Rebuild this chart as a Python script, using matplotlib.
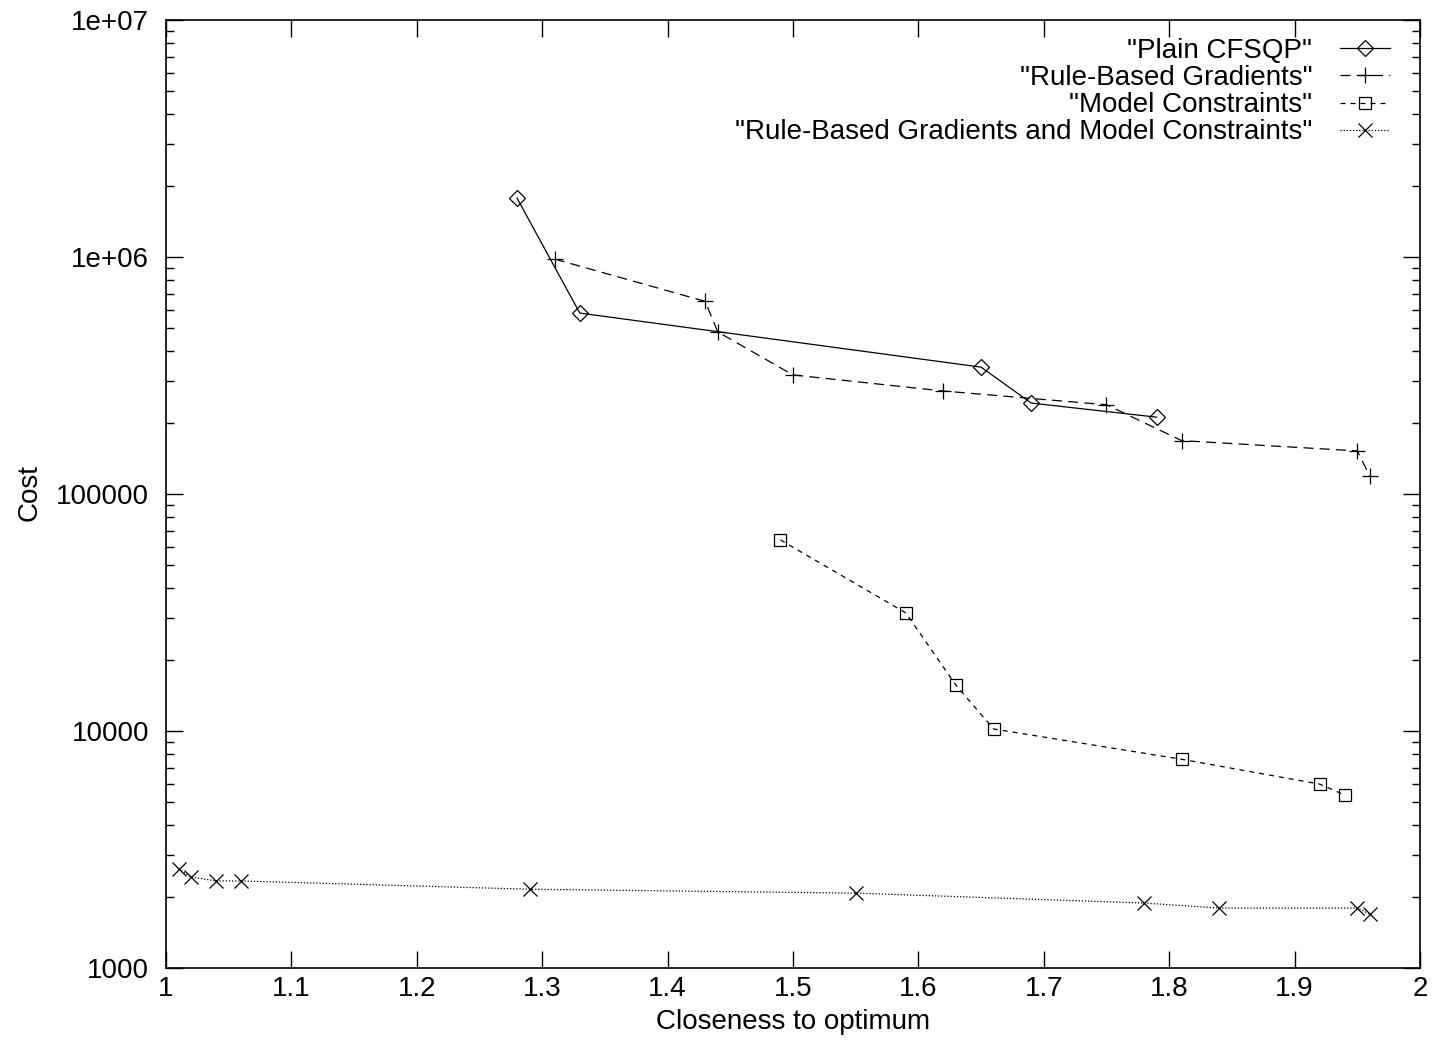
import matplotlib.pyplot as plt
import numpy as np

plt.rcParams['font.family'] = ['Liberation Sans', 'DejaVu Sans']

# данные
plain_x = [1.28, 1.33, 1.65, 1.69, 1.79]
plain_y = [1.77e6, 5.8e5, 3.43e5, 2.42e5, 2.11e5]

rule_x = [1.31, 1.43, 1.44, 1.50, 1.62, 1.75, 1.81, 1.95, 1.96]
rule_y = [9.8e5, 6.5e5, 4.83e5, 3.18e5, 2.72e5, 2.38e5, 1.68e5, 1.52e5, 1.19e5]

model_x = [1.49, 1.59, 1.63, 1.66, 1.81, 1.92, 1.94]
model_y = [6.4e4, 3.15e4, 1.56e4, 1.02e4, 7.6e3, 5.97e3, 5.37e3]

both_x = [1.01, 1.02, 1.04, 1.06, 1.29, 1.55, 1.78, 1.84, 1.95, 1.96]
both_y = [2.62e3, 2.42e3, 2.33e3, 2.33e3, 2.15e3, 2.07e3, 1.88e3, 1.79e3, 1.79e3, 1.69e3]

labels = ['"Plain CFSQP"', '"Rule-Based Gradients"', '"Model Constraints"',
          '"Rule-Based Gradients and Model Constraints"']
y_ticks = [1e3, 1e4, 1e5, 1e6, 1e7]
y_tick_labels = ['1000', '10000', '100000', '1e+06', '1e+07']
x_ticks = [1, 1.1, 1.2, 1.3, 1.4, 1.5, 1.6, 1.7, 1.8, 1.9, 2]
x_tick_labels = ['1', '1.1', '1.2', '1.3', '1.4', '1.5', '1.6', '1.7', '1.8', '1.9', '2']

FS = 20

fig = plt.figure(figsize=(14.32, 10.42), dpi=100)
ax = fig.add_axes([0.1159, 0.0710, 0.8757, 0.9098])

lw = 0.9
ax.plot(plain_x, plain_y, color='black', lw=lw, ls='-', marker='D', ms=8,
        mfc='none', mew=0.9, label=labels[0])
ax.plot(rule_x, rule_y, color='black', lw=lw, ls=(0, (8, 5)), marker='+', ms=11,
        mew=0.9, label=labels[1])
ax.plot(model_x, model_y, color='black', lw=lw, ls=(0, (4, 4)), marker='s', ms=9,
        mfc='none', mew=0.9, label=labels[2])
ax.plot(both_x, both_y, color='black', lw=lw, ls=(0, (1, 1.5)), marker='x', ms=10,
        mew=0.9, label=labels[3])

ax.set_yscale('log')
ax.set_xlim(1, 2)
ax.set_ylim(1e3, 1e7)
ax.set_yticks(y_ticks)
ax.set_yticklabels(y_tick_labels)
ax.set_xticks(x_ticks)
ax.set_xticklabels(x_tick_labels)
ax.tick_params(which='both', direction='in', top=True, right=True, labelsize=FS)
ax.tick_params(which='major', length=12, width=1)
ax.tick_params(which='minor', length=6, width=1)
ax.tick_params(axis='x', pad=6)
ax.tick_params(axis='y', pad=12)
for s in ax.spines.values():
    s.set_linewidth(1.2)

ax.set_xlabel('Closeness to optimum', fontsize=FS, labelpad=5)
fig.text(30 / 1432, 1 - 493 / 1042, 'Cost', fontsize=FS, rotation=90,
         ha='center', va='center')

ax.legend(loc='upper right', bbox_to_anchor=(1 - 12 / 1254, 1), frameon=False,
          fontsize=FS, markerfirst=False, handlelength=1.8, labelspacing=0.04,
          borderaxespad=0.25, handletextpad=1.0)

plt.savefig('out.png', dpi=100)
